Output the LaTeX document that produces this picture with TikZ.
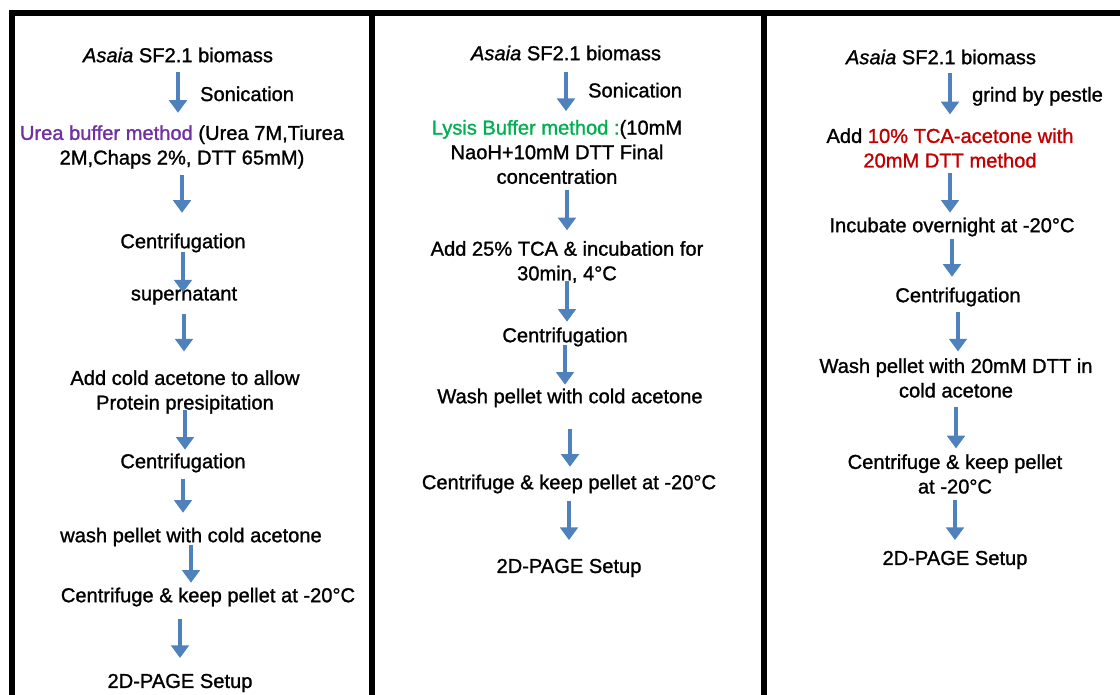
\documentclass[tikz,border=0pt]{standalone}
\usepackage{fontspec}
\setmainfont{Liberation Sans}[FakeBold=1.2]
\usepackage{tikz}
\usetikzlibrary{arrows.meta}

\definecolor{flowblue}{HTML}{4F81BD}
\definecolor{ureacol}{HTML}{7030A0}
\definecolor{lysiscol}{HTML}{00B050}
\definecolor{tcacol}{HTML}{C00000}

\begin{document}
\begin{tikzpicture}[x=0.025cm,y=-0.025cm,auto,
    font=\fontsize{14.3}{17.5}\selectfont,
    task/.style={inner sep=0pt,align=center},
    flow/.style={flowblue,line width=2.8pt,-{Triangle[width=12.5pt,length=9pt]}},
    lbl/.style={text=black,xshift=11pt},
    frame/.style={line width=3.6pt}]
  \useasboundingbox (0,0) rectangle (1120,695);

  % panels
  \draw[frame] (12,695) -- (12,13) -- (1120,13);
  \draw[frame] (372,13) -- (372,695);
  \draw[frame] (764,13) -- (764,695);

  % urea buffer
  \node[task] (p11) at (178,55) {\textit{Asaia} SF2.1 biomass};
  \node[task] (p12) at (182,147) {\textcolor{ureacol}{Urea buffer method} (Urea 7M,Tiurea\\2M,Chaps 2\%, DTT 65mM)};
  \node[task] (p13) at (183,243) {Centrifugation};
  \node[task] (p14) at (184,296) {supernatant};
  \node[task] (p15) at (185,392) {Add cold acetone to allow\\Protein presipitation};
  \node[task] (p16) at (183,463) {Centrifugation};
  \node[task] (p17) at (191,537) {wash pellet with cold acetone};
  \node[task] (p18) at (208,597) {Centrifuge \& keep pellet at -20°C};
  \node[task] (p19) at (180,683) {2D-PAGE Setup};

  \path[flow]
  (p11.south) edge[shorten <=6.4pt,shorten >=8.7pt] node[lbl] (e1) {Sonication} (p11.south |- p12.north)
  (p12.south) edge[shorten <=4.3pt,shorten >=14.6pt] (p12.south |- p13.north)
  (p13.south) edge[shorten <=-0.7pt,shorten >=-3.8pt] (p13.south |- p14.north)
  (p14.south) edge[shorten <=6.4pt,shorten >=13.2pt] (p14.south |- p15.north)
  (p15.south) edge[shorten <=-2.8pt,shorten >=2.6pt] (p15.south |- p16.north)
  (p16.south) edge[shorten <=4.3pt,shorten >=10.4pt] (p16.south |- p17.north)
  (p17.south) edge[shorten <=-1.4pt,shorten >=3.3pt] (p17.south |- p18.north)
  (p18.south -| p19.north) edge[shorten <=8.5pt,shorten >=11.1pt] (p19.north)
  ;

  % lysis buffer
  \node[task] (p21) at (566,53) {\textit{Asaia} SF2.1 biomass};
  \node[task] (p22) at (557,152) {\textcolor{lysiscol}{Lysis Buffer method :}(10mM\\NaoH+10mM DTT Final\\concentration};
  \node[task] (p23) at (567,262) {Add 25\% TCA \& incubation for\\30min, 4°C};
  \node[task] (p24) at (565,337) {Centrifugation};
  \node[task] (p25) at (570,398) {Wash pellet with cold acetone};
  \node[task] (p26) at (569,484) {Centrifuge \& keep pellet at -20°C};
  \node[task] (p27) at (569,568) {2D-PAGE Setup};

  \path[flow]
  (p21.south) edge[shorten <=7.8pt,shorten >=6.1pt] node[lbl] (e2) {Sonication} (p21.south |- p22.north)
  (p22.south -| p23.north) edge[shorten <=4.3pt,shorten >=7.5pt] (p23.north)
  (p23.south) edge[shorten <=-1.4pt,shorten >=4pt] (p23.south |- p24.north)
  (p24.south) edge[shorten <=-1.4pt,shorten >=2.6pt] (p24.south |- p25.north)
  (p25.south) edge[shorten <=15pt,shorten >=5.4pt] (p25.south |- p26.north)
  (p26.south) edge[shorten <=5pt,shorten >=13.2pt] (p26.south |- p27.north)
  ;

  % tca-acetone
  \node[task] (p31) at (941,57) {\textit{Asaia} SF2.1 biomass};
  \node[task] (p32) at (950,148) {Add \textcolor{tcacol}{10\% TCA-acetone with}\\\textcolor{tcacol}{20mM DTT method}};
  \node[task] (p33) at (952,227) {Incubate overnight at -20°C};
  \node[task] (p34) at (958,297) {Centrifugation};
  \node[task] (p35) at (956,378) {Wash pellet with 20mM DTT in\\cold acetone};
  \node[task] (p36) at (955,474) {Centrifuge \& keep pellet\\at -20°C};
  \node[task] (p37) at (955,560) {2D-PAGE Setup};

  \path[flow]
  (p31.south -| p32.north) edge[shorten <=5.7pt,shorten >=9.7pt] node[lbl] (e3) {grind by pestle} (p32.north)
  (p32.south) edge[shorten <=3.6pt,shorten >=3.3pt] (p32.south |- p33.north)
  (p33.south) edge[shorten <=1.4pt,shorten >=7.5pt] (p33.south |- p34.north)
  (p34.south) edge[shorten <=3.6pt,shorten >=4.7pt] (p34.south |- p35.north)
  (p35.south) edge[shorten <=6.4pt,shorten >=4pt] (p35.south |- p36.north)
  (p36.south) edge[shorten <=4.3pt,shorten >=7.5pt] (p36.south |- p37.north)
  ;
\end{tikzpicture}
\end{document}
